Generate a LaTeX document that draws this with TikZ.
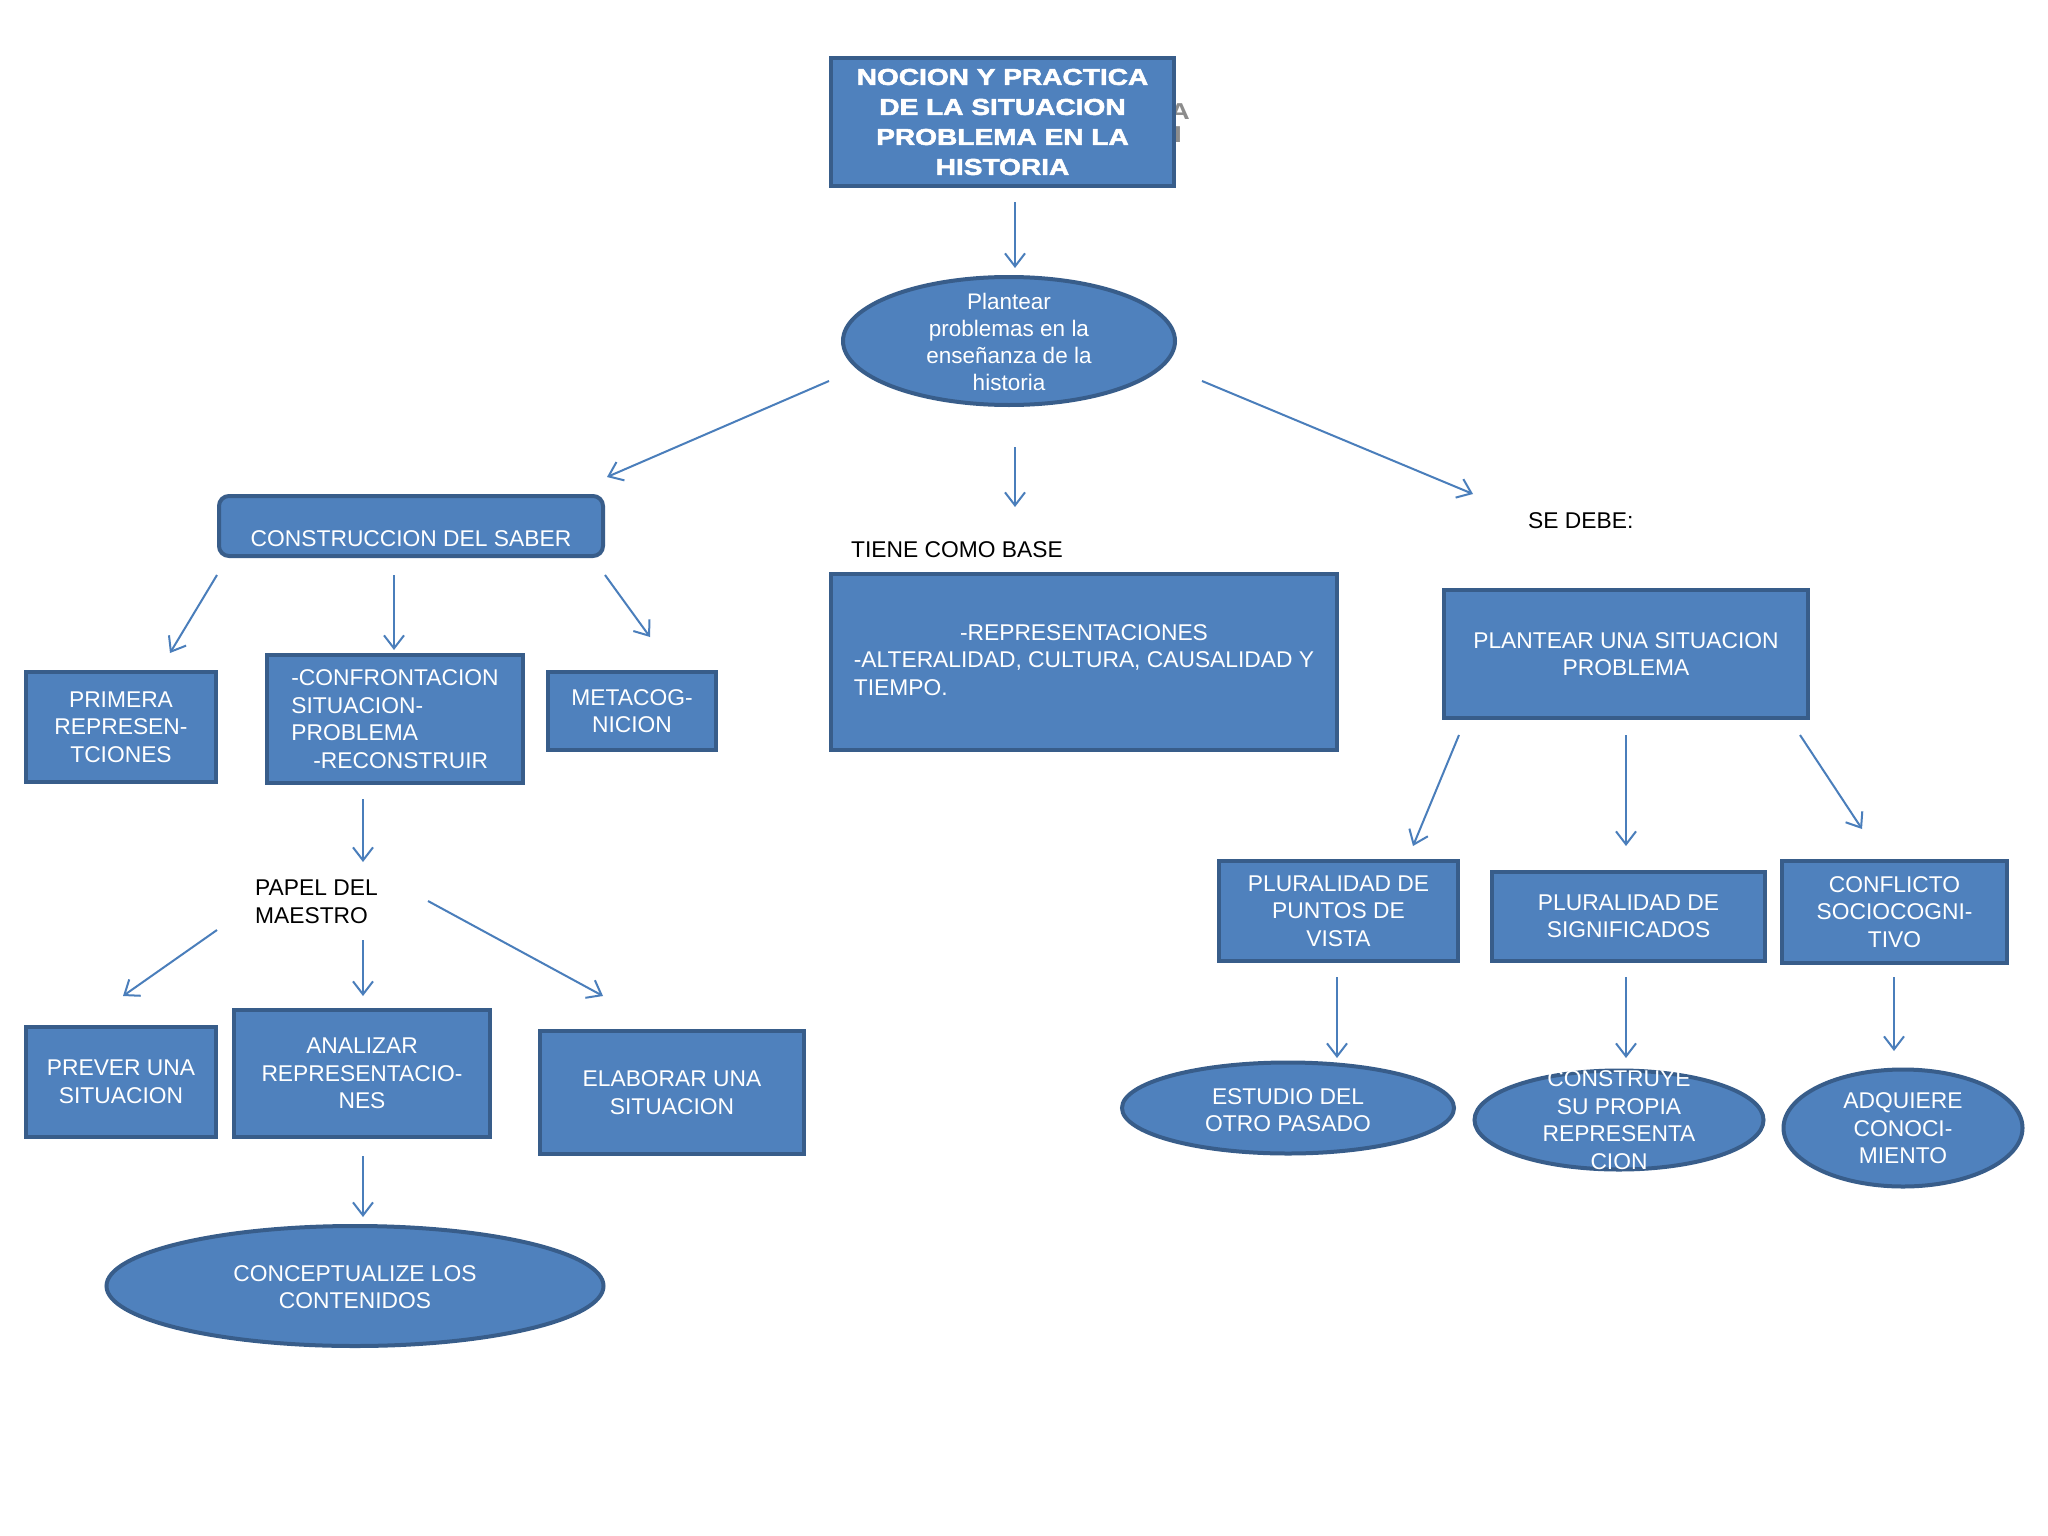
\documentclass[tikz,border=0pt]{standalone}
\usepackage{fontspec}
\setmainfont{Liberation Sans}
\newfontfamily\titlefont{Liberation Sans}[FakeStretch=1.22,FakeBold=2.5]
\newfontfamily\ghostfont{Liberation Sans}[FakeStretch=1.22]
\usetikzlibrary{shapes.geometric,arrows.meta}
\definecolor{boxc}{HTML}{4F81BD}
\definecolor{bordc}{HTML}{385D8A}
\definecolor{arrc}{HTML}{4A7EBB}
\definecolor{ghostc}{HTML}{8C8C8C}
\newcommand{\myfs}{\fontsize{22.8}{27.5}\selectfont}
\tikzset{
  bluebox/.style={draw=bordc, fill=boxc, line width=4pt, inner sep=0pt, text=white, align=center, font=\myfs},
  blueell/.style={bluebox, ellipse},
  lab/.style={text=black, align=left, font=\myfs, inner sep=0pt},
  wtext/.style={text=white, align=center, font=\myfs, inner sep=0pt},
  arr/.style={draw=arrc, line width=2pt, -{Straight Barb[length=13pt,width=20pt,line width=2pt]}},
  ghost/.style={text=ghostc, font=\ghostfont\fontsize{23}{30}\selectfont\bfseries, inner sep=0pt}
}
\begin{document}
\begin{tikzpicture}[x=1pt,y=-1pt]
\fill[white] (0,0) rectangle (2048,1536);
\useasboundingbox (0,0) rectangle (2048,1536);

% ghost letters behind the title
\node[ghost, anchor=east] (g1) at (1190,112) {A};
\node[ghost, anchor=east] (g2) at (1182,135) {I};

% title
\node[bluebox, minimum width=343, minimum height=128, font=\titlefont\fontsize{23}{30}\selectfont\bfseries] (title) at (1002.5,122)
  {NOCION Y PRACTICA\\DE LA SITUACION\\PROBLEMA EN LA\\HISTORIA};

\node[blueell, minimum width=332, minimum height=128] (plan) at (1009,341) {};
\node[wtext, font=\fontsize{22.5}{27}\selectfont] (planT) at (1009,342)
  {Plantear\\problemas en la\\enseñanza de la\\historia};

% left branch
\node[bluebox, rounded corners=10pt, minimum width=384, minimum height=60] (cons) at (411,526) {};
\node[wtext] (consT) at (411,539) {CONSTRUCCION DEL SABER};

\node[bluebox, minimum width=190, minimum height=110] (prim) at (121,727) {PRIMERA\\REPRESEN-\\TCIONES};
\node[bluebox, minimum width=256, minimum height=128, align=left] (conf) at (395,719)
  {-CONFRONTACION\\SITUACION-\\PROBLEMA\\\hspace*{22pt}-RECONSTRUIR};
\node[bluebox, minimum width=168, minimum height=78] (meta) at (632,711) {METACOG-\\NICION};

\node[lab, anchor=west] (papel) at (255,902) {PAPEL DEL\\MAESTRO};

\node[bluebox, minimum width=190, minimum height=110] (prev) at (121,1082) {PREVER UNA\\SITUACION};
\node[bluebox, minimum width=256, minimum height=127] (anal) at (362,1073.5) {ANALIZAR\\REPRESENTACIO-\\NES};
\node[bluebox, minimum width=264, minimum height=123] (elab) at (672,1092.5) {ELABORAR UNA\\SITUACION};
\node[blueell, minimum width=497, minimum height=120] (conc) at (355,1286) {};
\node[wtext] (concT) at (355,1287) {CONCEPTUALIZE LOS\\CONTENIDOS};

% middle branch
\node[lab, anchor=west] (tiene) at (851,550) {TIENE COMO BASE};
\node[bluebox, minimum width=506, minimum height=176] (repr) at (1084,662)
  {\begin{tabular}{@{}l@{}}\multicolumn{1}{@{}c@{}}{-REPRESENTACIONES}\\-ALTERALIDAD, CULTURA, CAUSALIDAD Y\\TIEMPO.\end{tabular}};

% right branch
\node[lab, anchor=west] (sedebe) at (1528,521) {SE DEBE:};
\node[bluebox, minimum width=364, minimum height=128] (plnt) at (1626,654) {PLANTEAR UNA SITUACION\\PROBLEMA};

\node[bluebox, minimum width=239, minimum height=100] (punt) at (1338.5,911) {PLURALIDAD DE\\PUNTOS DE\\VISTA};
\node[bluebox, minimum width=273, minimum height=89] (sign) at (1628.5,916.5) {PLURALIDAD DE\\SIGNIFICADOS};
\node[bluebox, minimum width=225, minimum height=102] (cfl) at (1894.5,912) {CONFLICTO\\SOCIOCOGNI-\\TIVO};

\node[blueell, minimum width=332, minimum height=91] (estu) at (1288,1108) {};
\node[wtext] (estuT) at (1288,1110) {ESTUDIO DEL\\OTRO PASADO};
\node[blueell, minimum width=289, minimum height=99] (cnst) at (1619,1120) {};
\node[wtext] (cnstT) at (1619,1120) {CONSTRUYE\\SU PROPIA\\REPRESENTA\\CION};
\node[blueell, minimum width=239, minimum height=117] (adqu) at (1903,1128) {};
\node[wtext] (adquT) at (1903,1128.5) {ADQUIERE\\CONOCI-\\MIENTO};

% connector end points
\coordinate (s1) at (1015,202);  \coordinate (e1) at (1015,268);
\coordinate (s2) at (829,381);   \coordinate (e2) at (607,477);
\coordinate (s3) at (1015,447);  \coordinate (e3) at (1015,507);
\coordinate (s4) at (1202,381);  \coordinate (e4) at (1473,494);
\coordinate (s5) at (217,575);   \coordinate (e5) at (170,653);
\coordinate (s6) at (394,575);   \coordinate (e6) at (394,650);
\coordinate (s7) at (605,575);   \coordinate (e7) at (650,637);
\coordinate (s8) at (363,799);   \coordinate (e8) at (363,862);
\coordinate (s9) at (217,930);   \coordinate (e9) at (123,996);
\coordinate (s10) at (363,940);  \coordinate (e10) at (363,996);
\coordinate (s11) at (428,901);  \coordinate (e11) at (603,996);
\coordinate (s12) at (363,1156); \coordinate (e12) at (363,1217);
\coordinate (s13) at (1459,735); \coordinate (e13) at (1413,846);
\coordinate (s14) at (1626,735); \coordinate (e14) at (1626,846);
\coordinate (s15) at (1800,735); \coordinate (e15) at (1862,829);
\coordinate (s16) at (1337,977); \coordinate (e16) at (1337,1058);
\coordinate (s17) at (1626,977); \coordinate (e17) at (1626,1058);
\coordinate (s18) at (1894,977); \coordinate (e18) at (1894,1051);

\foreach \i in {1,...,18} { \draw[arr] (s\i) -- (e\i); }
\end{tikzpicture}
\end{document}
